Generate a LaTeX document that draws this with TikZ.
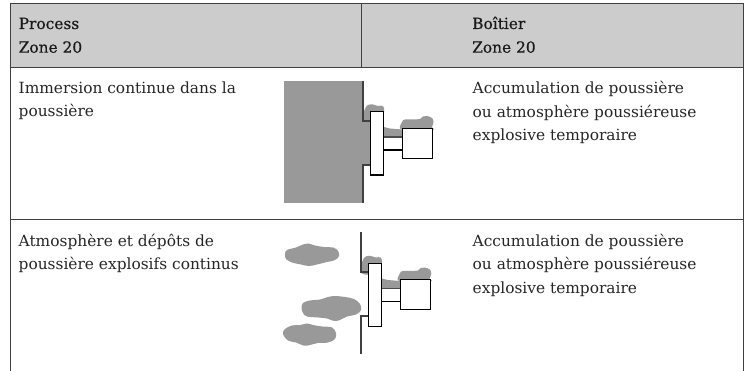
\documentclass[tikz,border=0pt]{standalone}
\usepackage{fontspec}
\setmainfont{DejaVu Serif}
\newfontfamily\headfont[FakeBold=0.5]{DejaVu Serif}
\begin{document}
\begin{tikzpicture}[x=1pt,y=-1pt,
  rule/.style={draw=black!75,line width=1pt},
  wall/.style={draw=black!75,line width=2pt},
  dust/.style={fill=dustgray,draw=none},
  part/.style={fill=white,draw=black,line width=1.1pt},
  txt/.style={anchor=base west,inner sep=0pt,font=\fontsize{15.4}{18}\selectfont,text=black!85},
  head/.style={anchor=base west,inner sep=0pt,font=\headfont\fontsize{15.4}{18}\selectfont,text=black!90},
  device/.pic={
    % dust on flange, neck and box
    \fill[dust] plot[smooth cycle,tension=0.6] coordinates {(364,122) (364.5,110) (368,105) (373,104.5) (378,106) (383,106) (384,112) (380,122)};
    \fill[dust] (383.7,137) -- (383.7,127) -- (390,128.5) -- (402.3,129.5) -- (402.3,137) -- cycle;
    \fill[dust] plot[smooth cycle,tension=0.6] coordinates {(402,130) (402,122) (405,119.5) (412,119.5) (420,119) (423,116.5) (427,116) (432,118) (433.5,122) (432,127) (432,130)};
    % wall
    \draw[wall] (362.7,80.7) -- (362.7,121) -- (371,121);
    \draw[wall] (362.7,202.7) -- (362.7,165) -- (371,165);
    % parts
    \draw[part] (383.7,137) rectangle (402.3,150);
    \draw[draw=black!70,line width=1.8pt] (383.7,137) -- (402.3,137);
    \draw[part] (370.7,111.7) rectangle (383.7,175);
    \draw[part] (402.3,128.3) rectangle (432.3,158.3);
  }]
\colorlet{dustgray}{black!40}
\useasboundingbox (0,0) rectangle (745,371);
% table
\fill[black!20] (10,4) rectangle (743.3,67.7);
\draw[rule] (743.3,371) -- (743.3,4) -- (10,4) -- (10,371);
\draw[rule] (10,67.7) -- (743.3,67.7);
\draw[rule] (361.5,4) -- (361.5,67.7);
\draw[rule] (10,220) -- (743.3,220);
% header
\node[head] (h1) at (18.5,29) {Process};
\node[head] (h2) at (18.5,52.7) {Zone 20};
\node[head] (h3) at (472,29) {Boîtier};
\node[head] (h4) at (472,52.7) {Zone 20};
% row 1
\node[txt] (a1) at (18.5,94) {Immersion continue dans la};
\node[txt] (a2) at (18.5,117) {poussière};
\node[txt] (b1) at (472.5,94) {Accumulation de poussière};
\node[txt] (b2) at (472.5,117.3) {ou atmosphère poussiéreuse};
\node[txt] (b3) at (472.5,141) {explosive temporaire};
% row 2
\node[txt] (c1) at (18.5,246.7) {Atmosphère et dépôts de};
\node[txt] (c2) at (18.5,270) {poussière explosifs continus};
\node[txt] (d1) at (472.5,246.7) {Accumulation de poussière};
\node[txt] (d2) at (472.5,270) {ou atmosphère poussiéreuse};
\node[txt] (d3) at (472.5,294) {explosive temporaire};
% process dust, row 1
\fill[dust] (284,80.7) rectangle (362.7,202.7);
\fill[dust] (362,121) rectangle (371,165);
\pic at (0,0) {device};
\pic at (-2.2,151.5) {device};
% clouds, row 2
\fill[dust] plot[smooth cycle,tension=0.6] coordinates {(285,254) (287,250) (296,247.5) (303,244.5) (308,243.5) (315,245.5) (324,247) (333,247.5) (338,251) (339,256) (335,260) (325,262.5) (317,264.5) (309,266) (301,264.5) (292,262.5) (286,259)};
\fill[dust] plot[smooth cycle,tension=0.6] coordinates {(301.5,308) (303,303) (310,300.5) (320,299.5) (328,297) (335,296) (345,297) (354,299) (360,304) (361,310) (356,314.5) (347,316.5) (340,320) (334,321) (327,318.5) (318,317.5) (307,316.5) (303,313)};
\fill[dust] plot[smooth cycle,tension=0.6] coordinates {(283,334) (285,329) (292,325.5) (300,325) (307,323.5) (313,325) (322,326.5) (332,327.5) (336,333) (335,339) (328,342.5) (318,343) (310,345) (304,345.7) (296,342.5) (288,340.5)};
\end{tikzpicture}
\end{document}
